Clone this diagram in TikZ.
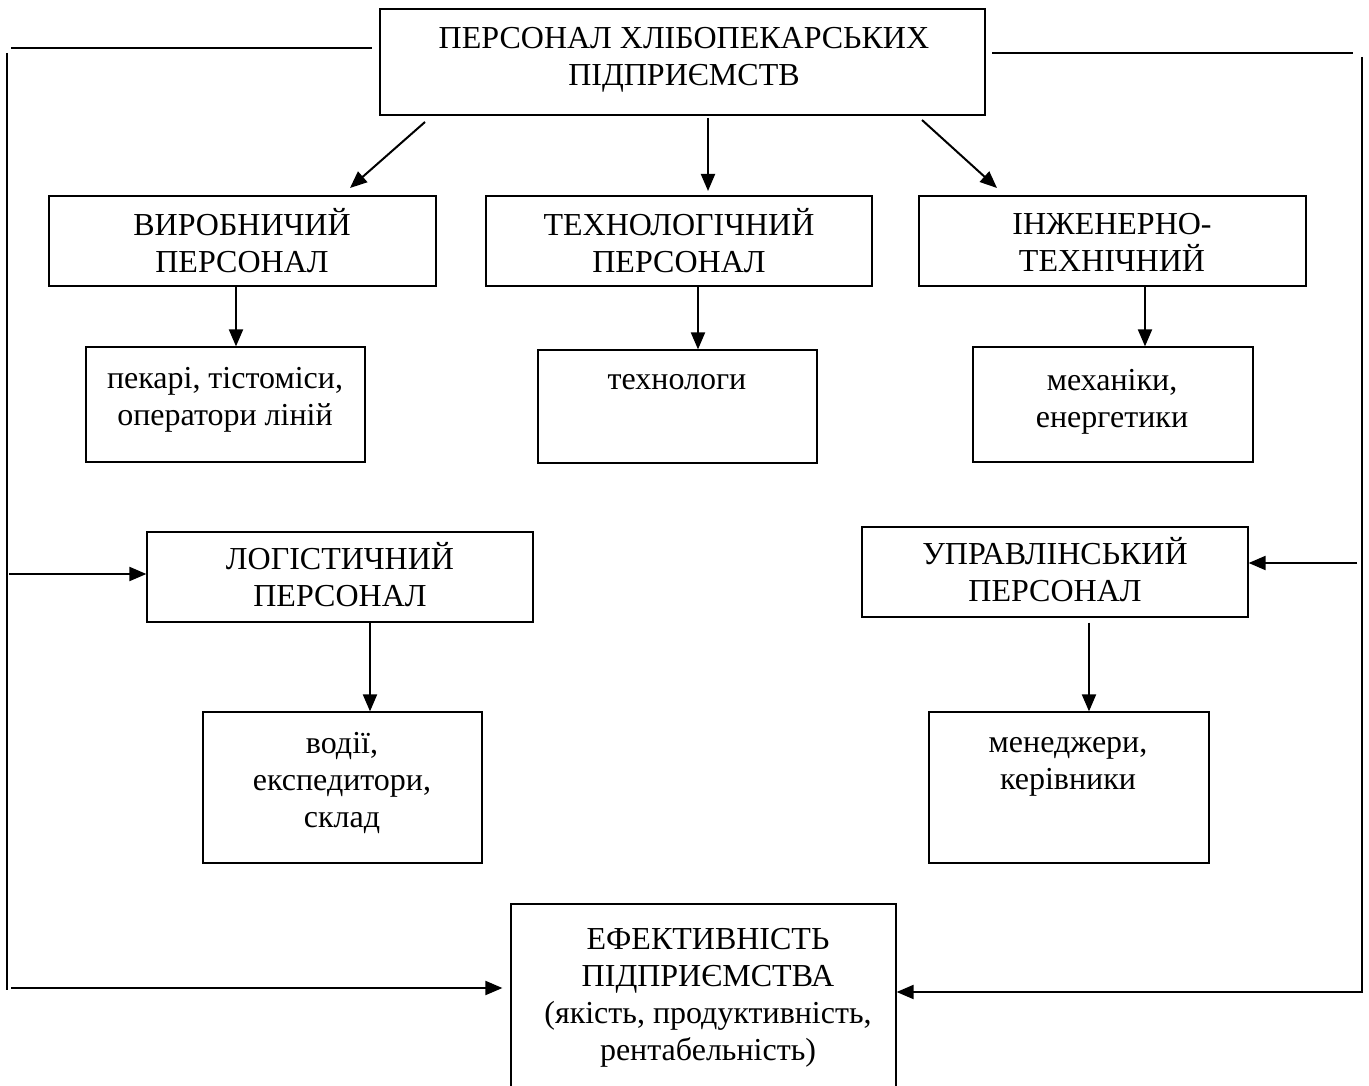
\documentclass[tikz,border=0pt]{standalone}
\usepackage{fontspec}
\setmainfont{Liberation Serif}
\usetikzlibrary{arrows.meta}
\newcommand\mystrut{\rule{0pt}{32pt}}
\begin{document}
\begin{tikzpicture}[x=1pt,y=-1pt,
  box/.style={draw,line width=1.2pt,inner sep=0pt},
  txt/.style={anchor=north,inner sep=0pt,align=center,font=\fontsize{32}{37}\selectfont},
  conn/.style={line width=2pt},
  arr/.style={conn,-{Triangle[length=17pt,width=14pt]}}]
\clip (0,0) rectangle (1369,1086);
\fill[white] (0,0) rectangle (1369,1086);
% boxes
\node[box,minimum width=605pt,minimum height=106pt] (top) at (682.5,62) {};
\node[box,minimum width=387pt,minimum height=90pt] (vyrob) at (242.5,241) {};
\node[box,minimum width=386pt,minimum height=90pt] (tekh) at (679,241) {};
\node[box,minimum width=387pt,minimum height=90pt] (inzh) at (1112.5,241) {};
\node[box,minimum width=279pt,minimum height=115pt] (pek) at (225.5,404.5) {};
\node[box,minimum width=279pt,minimum height=113pt] (tnl) at (677.5,406.5) {};
\node[box,minimum width=280pt,minimum height=115pt] (mekh) at (1113,404.5) {};
\node[box,minimum width=386pt,minimum height=90pt] (logist) at (340,577) {};
\node[box,minimum width=386pt,minimum height=90pt] (uprav) at (1055,572) {};
\node[box,minimum width=279pt,minimum height=151pt] (vodii) at (342.5,787.5) {};
\node[box,minimum width=280pt,minimum height=151pt] (men) at (1069,787.5) {};
\node[box,minimum width=385pt,minimum height=196pt] (eff) at (703.5,1002) {};
% texts
\node[txt] (ttop) at (684,16) {\mystrut ПЕРСОНАЛ ХЛІБОПЕКАРСЬКИХ\\ПІДПРИЄМСТВ};
\node[txt] (tvyrob) at (242,203) {\mystrut ВИРОБНИЧИЙ\\ПЕРСОНАЛ};
\node[txt] (ttekh) at (679,203) {\mystrut ТЕХНОЛОГІЧНИЙ\\ПЕРСОНАЛ};
\node[txt] (tinzh) at (1112,202) {\mystrut ІНЖЕНЕРНО-\\ТЕХНІЧНИЙ};
\node[txt] (tpek) at (225,356) {\mystrut пекарі, тістоміси,\\оператори ліній};
\node[txt] (ttnl) at (677,357) {\mystrut технологи};
\node[txt] (tmekh) at (1112,358) {\mystrut механіки,\\енергетики};
\node[txt] (tlogist) at (340,537) {\mystrut ЛОГІСТИЧНИЙ\\ПЕРСОНАЛ};
\node[txt] (tuprav) at (1055,532) {\mystrut УПРАВЛІНСЬКИЙ\\ПЕРСОНАЛ};
\node[txt] (tvodii) at (342,721) {\mystrut водії,\\експедитори,\\склад};
\node[txt] (tmen) at (1068,720) {\mystrut менеджери,\\керівники};
\node[txt] (teff) at (708,917) {\mystrut ЕФЕКТИВНІСТЬ\\ПІДПРИЄМСТВА\\ (якість, продуктивність,\\рентабельність)};
% helper coordinates
\coordinate (a1) at (425,122);
\coordinate (a1e) at (350,188);
\coordinate (a2) at (708,118);
\coordinate (a2e) at (708,191);
\coordinate (a3) at (922,120);
\coordinate (a3e) at (997,188);
\coordinate (xv1) at (236,0);
\coordinate (xv2) at (698,0);
\coordinate (xv3) at (1145,0);
\coordinate (xv4) at (370,0);
\coordinate (xv5) at (1089,0);
\coordinate (tl) at (11,48);
\coordinate (lv1) at (7,53);
\coordinate (lv2) at (7,990);
\coordinate (bl) at (11,988);
\coordinate (la) at (9,574);
\coordinate (tr1) at (992,53);
\coordinate (tr2) at (1353,53);
\coordinate (rv1) at (1362,57);
\coordinate (rv2) at (1362,993);
\coordinate (br) at (1363,992);
\coordinate (ra) at (1357,563);
% connectors
\draw[arr] (a1) -- (a1e);
\draw[arr] (a2) -- (a2e);
\draw[arr] (a3) -- (a3e);
\draw[arr] (vyrob.south -| xv1) -- (pek.north -| xv1);
\draw[arr] (tekh.south -| xv2) -- (tnl.north -| xv2);
\draw[arr] (inzh.south -| xv3) -- (mekh.north -| xv3);
\draw[arr] (logist.south -| xv4) -- (vodii.north -| xv4);
\draw[arr] ([yshift=-5pt]uprav.south -| xv5) -- (men.north -| xv5);
\draw[conn,shorten >=7pt] (tl) -- (top.west |- tl);
\draw[conn] (lv1) -- (lv2);
\draw[arr,shorten >=8pt] (bl) -- (eff.west |- bl);
\draw[arr] (la) -- (logist.west |- la);
\draw[conn] (tr1) -- (tr2);
\draw[conn] (rv1) -- (rv2);
\draw[arr] (br) -- (eff.east |- br);
\draw[arr] (ra) -- (uprav.east |- ra);
\end{tikzpicture}
\end{document}
